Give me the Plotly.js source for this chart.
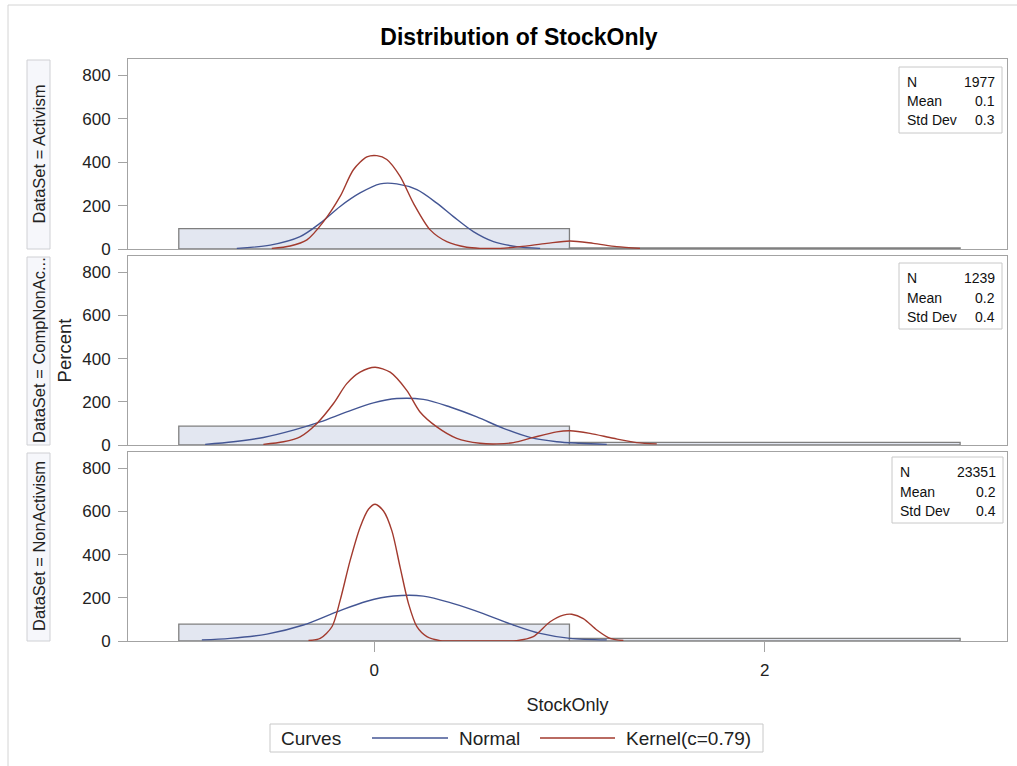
<!DOCTYPE html>
<html><head><meta charset="utf-8">
<script src="https://cdn.plot.ly/plotly-3.0.1.min.js"></script>
<style>html,body{margin:0;padding:0;background:#fff}</style>
</head><body><div id="chart" style="width:1017px;height:766px"></div>
<script>
// ---------------- data ----------------
const chartTitle = 'Distribution of StockOnly';
const xTitle = 'StockOnly';
const yTitle = 'Percent';
const panelNames = ['DataSet = Activism', 'DataSet = CompNonAc...', 'DataSet = NonActivism'];
const legendTitle = 'Curves';
const curveNames = ['Normal', 'Kernel(c=0.79)'];

const binMid = [0, 2];
const binWidth = 2;
const barActivism = [94, 5];
const barCompNonAc = [87, 12];
const barNonActivism = [78, 12];

const xTicks = [0, 2];
const yTicks = [0, 200, 400, 600, 800];

const normalXActivism = [-0.703, -0.532, -0.379, -0.276, -0.174, -0.072, 0.031, 0.116, 0.219, 0.321, 0.406, 0.508, 0.611, 0.730, 0.850];
const normalYActivism = [3, 18, 57, 119, 196, 258, 300, 300, 273, 211, 149, 80, 34, 11, 3];
const kernelXActivism = [-0.524, -0.430, -0.344, -0.259, -0.174, -0.106, -0.037, 0.014, 0.065, 0.133, 0.201, 0.287, 0.372, 0.474, 0.542, 0.645, 0.747, 0.884, 1.003, 1.122, 1.242, 1.361];
const kernelYActivism = [3, 14, 42, 126, 242, 365, 424, 430, 412, 334, 211, 88, 34, 8, 3, 3, 11, 26, 37, 26, 11, 3];

const normalXCompNonAc = [-0.865, -0.720, -0.567, -0.413, -0.276, -0.140, -0.004, 0.116, 0.252, 0.389, 0.526, 0.662, 0.798, 0.935, 1.054, 1.191];
const normalYCompNonAc = [3, 15, 35, 69, 107, 153, 195, 215, 211, 176, 130, 77, 35, 15, 8, 3];
const kernelXCompNonAc = [-0.567, -0.464, -0.379, -0.293, -0.208, -0.140, -0.072, 0.005, 0.082, 0.167, 0.235, 0.321, 0.423, 0.542, 0.628, 0.713, 0.815, 0.935, 1.003, 1.105, 1.225, 1.344, 1.447];
const kernelYCompNonAc = [3, 15, 38, 100, 192, 284, 337, 360, 337, 253, 153, 84, 31, 8, 5, 11, 35, 61, 66, 54, 31, 11, 5];

const normalXNonActivism = [-0.882, -0.737, -0.549, -0.362, -0.191, -0.037, 0.099, 0.252, 0.406, 0.559, 0.713, 0.850, 1.003, 1.191];
const normalYNonActivism = [5, 12, 32, 74, 135, 184, 208, 208, 173, 127, 74, 35, 12, 5];
const kernelXNonActivism = [-0.336, -0.276, -0.216, -0.174, -0.123, -0.072, -0.029, 0.005, 0.048, 0.091, 0.133, 0.176, 0.219, 0.270, 0.338, 0.45, 0.60, 0.730, 0.815, 0.901, 0.969, 1.012, 1.071, 1.140, 1.208, 1.276];
const kernelYNonActivism = [2, 12, 66, 188, 372, 526, 610, 633, 602, 510, 342, 173, 66, 20, 2, 0, 0, 2, 20, 89, 120, 124, 104, 51, 12, 2];

const statLabels = ['N', 'Mean', 'Std Dev'];
const statsActivism = ['1977', '0.1', '0.3'];
const statsCompNonAc = ['1239', '0.2', '0.4'];
const statsNonActivism = ['23351', '0.2', '0.4'];

// ---------------- layout helpers ----------------
const FONT = 'Liberation Sans, Arial, sans-serif';
const L = 128, T = 59, W = 879, H = 582;
const px = x => (x - L) / W;
const py = y => (T + H - y) / H;

const panelPix = [[59, 249], [256, 445], [452, 641]];
const statBoxPix = [[899, 1002, 67, 133], [899, 1002, 263, 329], [892, 1003, 457, 523]];
const bars = [barActivism, barCompNonAc, barNonActivism];
const normX = [normalXActivism, normalXCompNonAc, normalXNonActivism];
const normY = [normalYActivism, normalYCompNonAc, normalYNonActivism];
const kernX = [kernelXActivism, kernelXCompNonAc, kernelXNonActivism];
const kernY = [kernelYActivism, kernelYCompNonAc, kernelYNonActivism];
const stats = [statsActivism, statsCompNonAc, statsNonActivism];

const BLUE = '#445694', RED = '#a23a2e', FRAME = '#a3a3a3';
const traces = [];
const shapes = [];
const annotations = [];
const layout = {
  width: 1017, height: 766,
  margin: {l: L, r: 1017 - L - W, t: T, b: 766 - T - H},
  paper_bgcolor: '#fff', plot_bgcolor: '#fff',
  font: {family: FONT, color: '#222', size: 16},
  showlegend: false,
  bargap: 0,
  title: {text: '<b>' + chartTitle + '</b>', font: {family: FONT, size: 23, color: '#000'},
          x: 519 / 1017, xref: 'container', xanchor: 'center', y: 1 - 37 / 766, yref: 'container', yanchor: 'middle'}
};

for (let i = 0; i < 3; i++) {
  const xa = i === 0 ? 'x' : 'x' + (i + 1);
  const ya = i === 0 ? 'y' : 'y' + (i + 1);
  const [top, bot] = panelPix[i];
  traces.push({type: 'bar', x: binMid, y: bars[i], width: binMid.map(() => binWidth),
    marker: {color: '#e3e7f1', line: {color: '#7f7f7f', width: 1.3}}, xaxis: xa, yaxis: ya, hoverinfo: 'skip'});
  traces.push({type: 'scatter', mode: 'lines', name: curveNames[0], x: normX[i], y: normY[i],
    line: {color: BLUE, width: 1.4, shape: 'spline', smoothing: 0.9}, xaxis: xa, yaxis: ya});
  traces.push({type: 'scatter', mode: 'lines', name: curveNames[1], x: kernX[i], y: kernY[i],
    line: {color: RED, width: 1.4, shape: 'spline', smoothing: 0.8}, xaxis: xa, yaxis: ya});

  const xKey = i === 0 ? 'xaxis' : 'xaxis' + (i + 1);
  const yKey = i === 0 ? 'yaxis' : 'yaxis' + (i + 1);
  const last = i === 2;
  layout[xKey] = {
    domain: [0, 1], anchor: ya, range: [-1.26, 3.24], fixedrange: true,
    showline: true, mirror: true, linecolor: FRAME, linewidth: 1,
    showgrid: false, zeroline: false,
    tickvals: last ? xTicks : [], ticks: last ? 'outside' : '', ticklen: 10, tickcolor: FRAME,
    showticklabels: last, ticklabelstandoff: 4,
    tickfont: {family: FONT, size: 17, color: '#222'}
  };
  if (last) layout[xKey].title = {text: xTitle, standoff: 18, font: {family: FONT, size: 18, color: '#222'}};
  layout[yKey] = {
    domain: [py(bot), py(top)], anchor: xa, range: [0, 875], fixedrange: true,
    showline: true, mirror: true, linecolor: FRAME, linewidth: 1,
    showgrid: false, zeroline: false,
    tickvals: yTicks, ticks: 'outside', ticklen: 9, tickcolor: FRAME, ticklabelstandoff: 4,
    tickfont: {family: FONT, size: 17, color: '#222'}
  };
  if (i === 1) layout[yKey].title = {text: yTitle, standoff: 5, font: {family: FONT, size: 18.5, color: '#222'}};

  // strip label
  shapes.push({type: 'rect', xref: 'paper', yref: 'paper', x0: px(27), x1: px(50), y0: py(bot), y1: py(top + 1),
    line: {color: '#cfd0d4', width: 1}, fillcolor: '#f6f7fb', layer: 'below'});
  annotations.push({xref: 'paper', yref: 'paper', x: px(38.5), y: py((top + bot) / 2), text: panelNames[i],
    textangle: -90, showarrow: false, xanchor: 'center', yanchor: 'middle',
    font: {family: FONT, size: 16.5, color: '#222'}});

  // stats inset
  const [bx0, bx1, by0, by1] = statBoxPix[i];
  shapes.push({type: 'rect', xref: 'paper', yref: 'paper', x0: px(bx0), x1: px(bx1), y0: py(by1), y1: py(by0),
    line: {color: '#c8c8c8', width: 1}, fillcolor: 'rgba(0,0,0,0)', layer: 'above'});
  const rowOff = [15, 34.5, 53.5];
  for (let r = 0; r < statLabels.length; r++) {
    annotations.push({xref: 'paper', yref: 'paper', x: px(bx0 + 6), y: py(by0 + rowOff[r]), text: statLabels[r],
      showarrow: false, xanchor: 'left', yanchor: 'middle', font: {family: FONT, size: 14, color: '#111'}});
    annotations.push({xref: 'paper', yref: 'paper', x: px(bx1 - 5), y: py(by0 + rowOff[r]), text: stats[i][r],
      showarrow: false, xanchor: 'right', yanchor: 'middle', font: {family: FONT, size: 14, color: '#111'}});
  }
}

// legend (drawn as a framed key below the plot)
const legY = 738;
shapes.push({type: 'rect', xref: 'paper', yref: 'paper', x0: px(270), x1: px(763), y0: py(752), y1: py(724),
  line: {color: '#c8c8c8', width: 1}, fillcolor: 'rgba(0,0,0,0)'});
shapes.push({type: 'line', xref: 'paper', yref: 'paper', x0: px(372), x1: px(448), y0: py(legY), y1: py(legY),
  line: {color: BLUE, width: 1.4}});
shapes.push({type: 'line', xref: 'paper', yref: 'paper', x0: px(540), x1: px(615), y0: py(legY), y1: py(legY),
  line: {color: RED, width: 1.4}});
annotations.push({xref: 'paper', yref: 'paper', x: px(279), y: py(legY), text: legendTitle, showarrow: false,
  xanchor: 'left', yanchor: 'middle', font: {family: FONT, size: 19, color: '#222'}});
annotations.push({xref: 'paper', yref: 'paper', x: px(457), y: py(legY), text: curveNames[0], showarrow: false,
  xanchor: 'left', yanchor: 'middle', font: {family: FONT, size: 19, color: '#222'}});
annotations.push({xref: 'paper', yref: 'paper', x: px(624), y: py(legY), text: curveNames[1], showarrow: false,
  xanchor: 'left', yanchor: 'middle', font: {family: FONT, size: 19, color: '#222'}});

// outer frame of the graph
shapes.push({type: 'line', xref: 'paper', yref: 'paper', x0: px(8), x1: px(1017), y0: py(5), y1: py(5),
  line: {color: '#d4d4d4', width: 1}});
shapes.push({type: 'line', xref: 'paper', yref: 'paper', x0: px(8), x1: px(8), y0: py(5), y1: py(766),
  line: {color: '#d4d4d4', width: 1}});

layout.shapes = shapes;
layout.annotations = annotations;

Plotly.newPlot('chart', traces, layout, {displayModeBar: false, staticPlot: true});
</script></body></html>
